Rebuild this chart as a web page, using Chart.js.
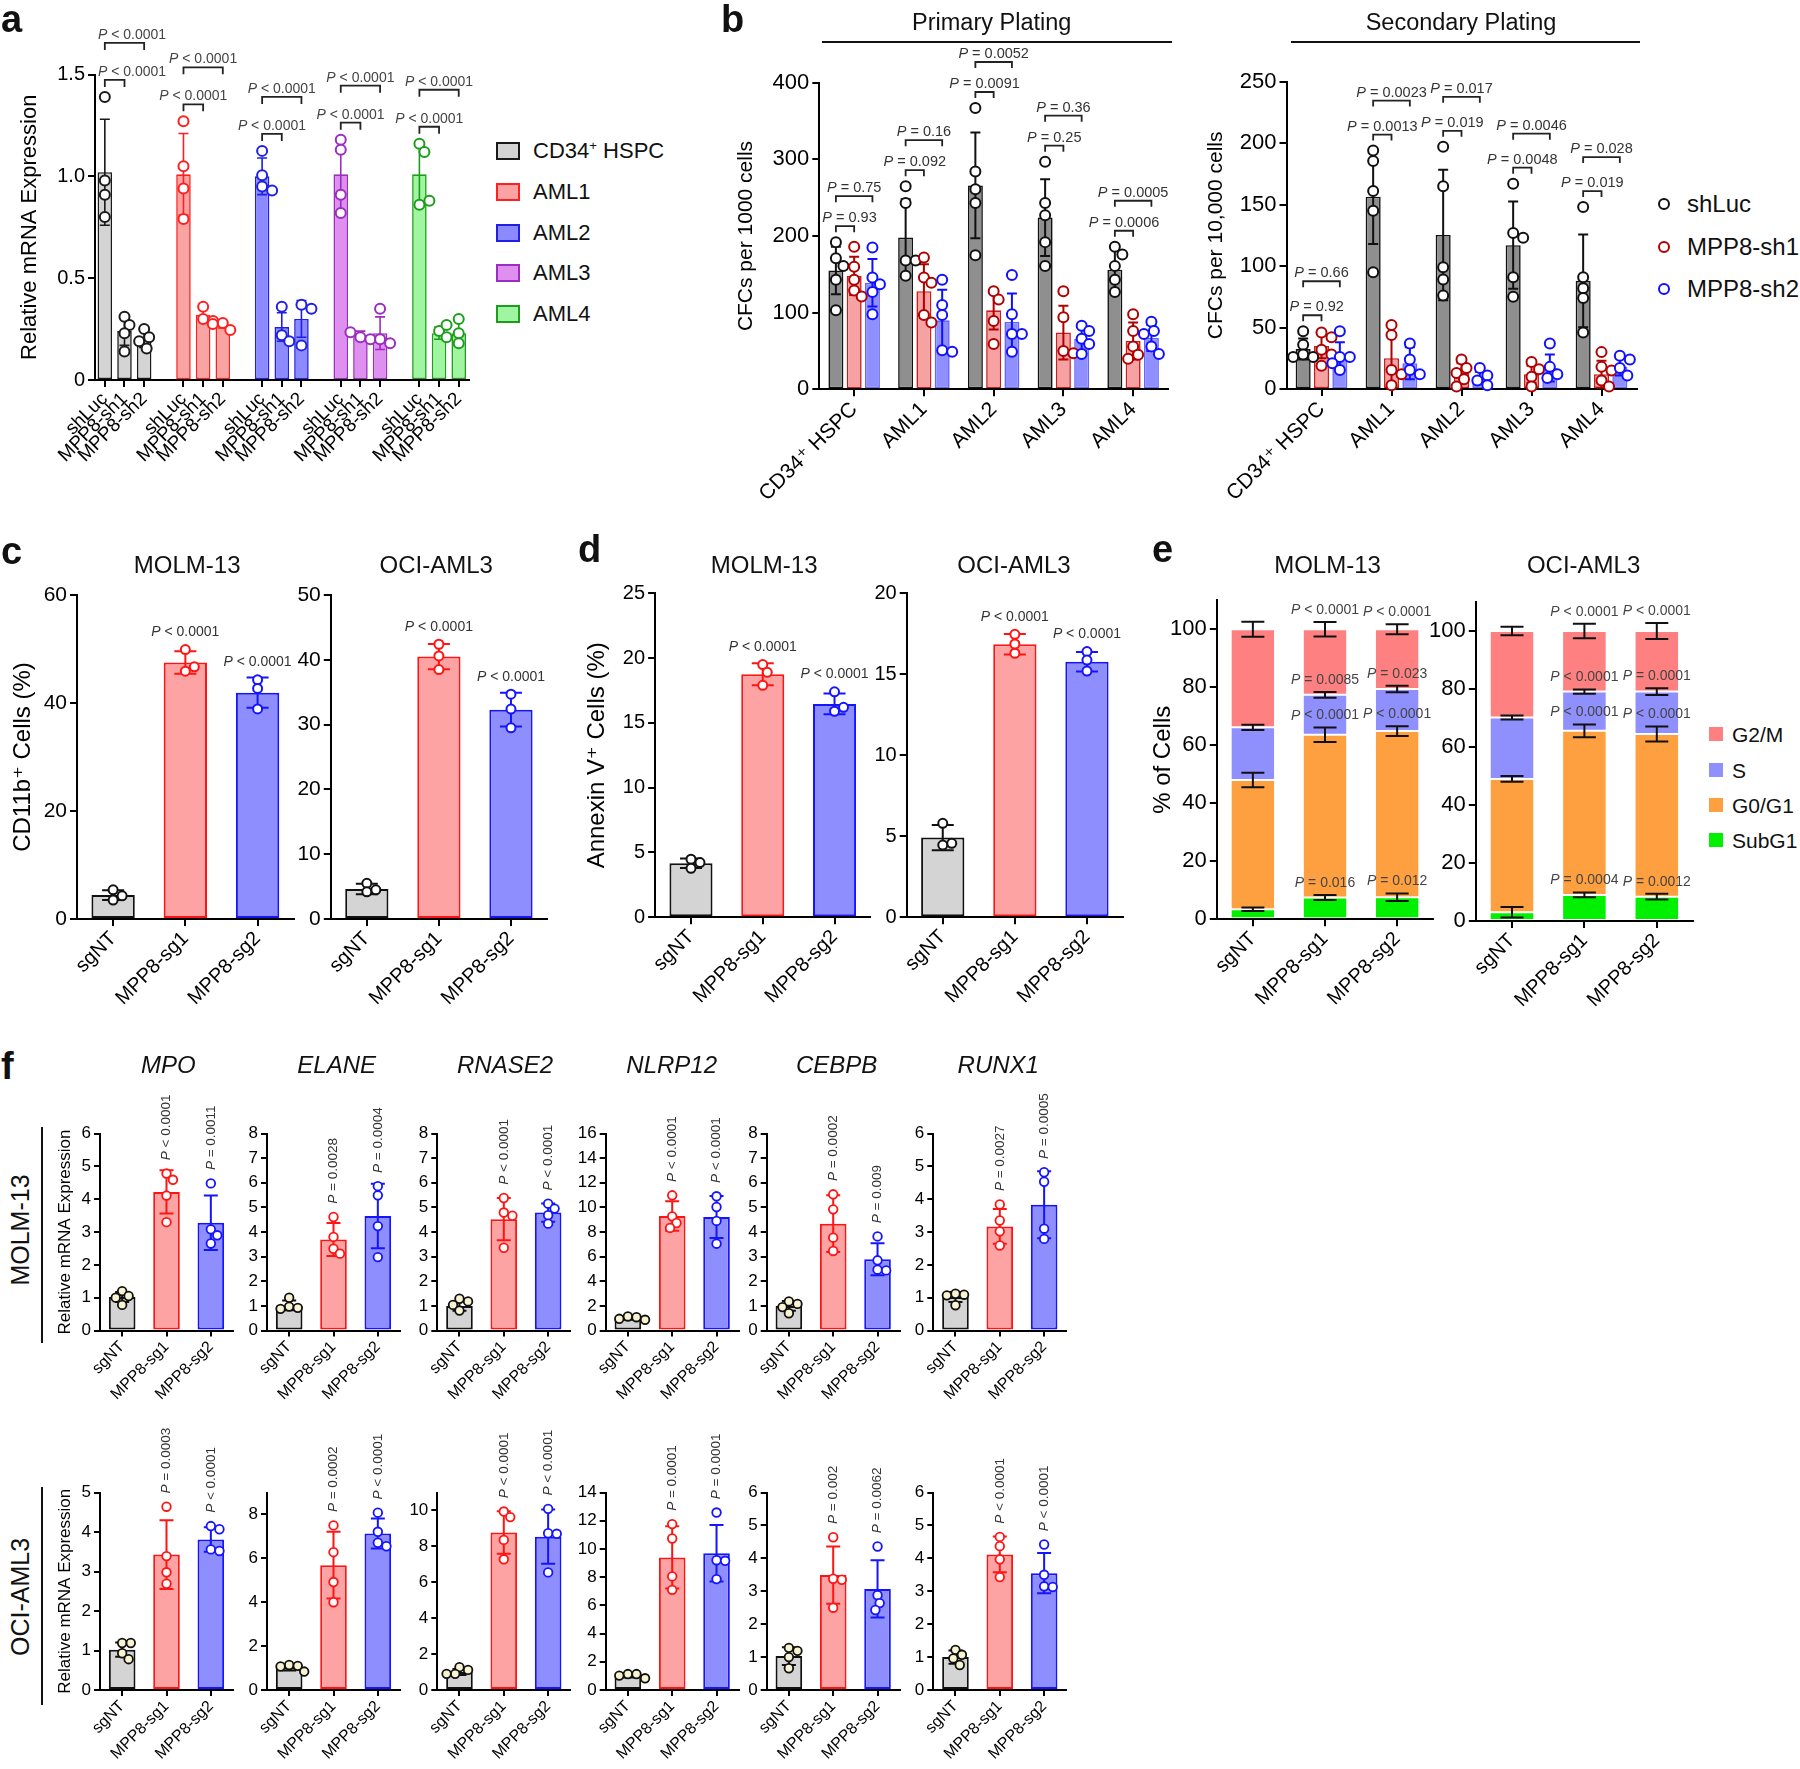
<!DOCTYPE html>
<html>
<head>
<meta charset="utf-8">
<title>MPP8 figure</title>
<script src="https://cdn.jsdelivr.net/npm/chart.js@4.4.1/dist/chart.umd.min.js"></script>
<style>
  html, body { margin: 0; padding: 0; background: #fff; }
  #fig { position: relative; width: 1800px; height: 1769px; overflow: hidden; background: #fff;
         font-family: 'Liberation Sans', Arial, 'DejaVu Sans', sans-serif; color: #111; }
  #fig canvas { position: absolute; }
  .t { position: absolute; white-space: nowrap; line-height: 1; transform: translate(-50%, -50%); z-index: 5; }
  .box { position: absolute; box-sizing: border-box; z-index: 5; }
</style>
</head>
<body>
<div id="fig"></div>
<script>
// ======================= DATA =======================
// ---- Panel a : relative MPP8 mRNA ----
const aGroups = ['CD34⁺ HSPC', 'AML1', 'AML2', 'AML3', 'AML4'];
const aConditions = ['shLuc', 'MPP8-sh1', 'MPP8-sh2'];
const aMeans = [
  [1.02, 0.24, 0.20],
  [1.01, 0.32, 0.27],
  [1.00, 0.26, 0.30],
  [1.01, 0.22, 0.23],
  [1.01, 0.23, 0.23]
];
const aSDs = [
  [0.26, 0.07, 0.04],
  [0.20, 0.03, 0.015],
  [0.09, 0.07, 0.09],
  [0.18, 0.02, 0.08],
  [0.16, 0.03, 0.06]
];
const aPoints = [
  [[1.39, 0.98, 0.91, 0.80], [0.31, 0.27, 0.23, 0.14], [0.25, 0.21, 0.19, 0.155]],
  [[1.27, 1.05, 0.94, 0.79], [0.36, 0.30, 0.29], [0.28, 0.245, 0.275]],
  [[1.125, 1.005, 0.95, 0.93], [0.36, 0.22, 0.19], [0.37, 0.35, 0.17]],
  [[1.18, 1.13, 0.91, 0.82], [0.21, 0.20, 0.235], [0.35, 0.20, 0.18]],
  [[1.16, 1.12, 0.86, 0.88], [0.24, 0.21, 0.27], [0.30, 0.23, 0.18]]
];
const aPShort = ['< 0.0001', '< 0.0001', '< 0.0001', '< 0.0001', '< 0.0001'];
const aPLong  = ['< 0.0001', '< 0.0001', '< 0.0001', '< 0.0001', '< 0.0001'];

// ---- Panel b : colony forming cells ----
const bCategories = ['CD34⁺ HSPC', 'AML1', 'AML2', 'AML3', 'AML4'];
const bSeries = ['shLuc', 'MPP8-sh1', 'MPP8-sh2'];
const bPrimaryMeans = [[155, 198, 266, 224, 156], [148, 128, 103, 74, 63], [139, 90, 88, 66, 67]];
const bPrimarySDs   = [[31, 50, 69, 50, 29], [25, 35, 25, 35, 24], [31, 40, 37, 16, 17]];
const bPrimaryPoints = [
  [[192, 171, 161, 143, 103], [265, 243, 168, 168, 148], [367, 284, 261, 243, 175], [297, 243, 227, 192, 161], [186, 176, 161, 143, 127]],
  [[186, 160, 143, 129, 121], [172, 146, 139, 97, 87], [128, 117, 89, 59], [128, 94, 50, 47], [98, 76, 56, 45, 40]],
  [[185, 146, 137, 127, 98], [143, 110, 97, 51, 49], [149, 98, 72, 72, 49], [83, 76, 66, 59, 46], [88, 76, 72, 56, 46]]
];
const bPrimaryPShort = ['= 0.93', '= 0.092', '= 0.0091', '= 0.25', '= 0.0006'];
const bPrimaryPLong  = ['= 0.75', '= 0.16', '= 0.0052', '= 0.36', '= 0.0005'];

const bSecondaryMeans = [[32.5, 156.5, 125.3, 117, 88], [35, 25, 13, 12, 12], [26, 21, 9, 17, 18]];
const bSecondarySDs   = [[8.5, 38.5, 53, 35.5, 37.7], [10, 27, 8, 7, 11], [12, 13, 5, 11, 7]];
const bSecondaryPoints = [
  [[47, 36, 28, 26, 26], [194, 185.5, 161, 145, 95], [197, 165, 99, 89, 76], [167, 127, 123, 91, 75], [148, 91, 82, 74, 46]],
  [[46, 42, 32, 28, 19], [52, 44, 15.5, 12, 3], [24, 17, 13, 8, 2], [22, 16, 10, 2], [30, 18, 15, 7, 2]],
  [[47, 26, 26, 21, 15.5], [37, 24, 15.5, 12], [17, 11, 7, 3], [37, 18, 12, 9], [27, 24, 17, 11]]
];
const bSecondaryPShort = ['= 0.92', '= 0.0013', '= 0.019', '= 0.0048', '= 0.019'];
const bSecondaryPLong  = ['= 0.66', '= 0.0023', '= 0.017', '= 0.0046', '= 0.028'];

// ---- Panels c, d : CD11b+ and Annexin V+ ----
const sgConditions = ['sgNT', 'MPP8-sg1', 'MPP8-sg2'];
const cMolmMeans = [4.44, 47.5, 41.9];
const cMolmSDs = [0.9, 2.1, 2.8];
const cMolmPoints = [[5.4, 3.5, 4.3], [49.9, 45.9, 46.7], [44.3, 42.7, 38.9]];
const cOciMeans = [4.63, 40.5, 32.3];
const cOciSDs = [0.8, 1.95, 2.6];
const cOciPoints = [[5.5, 4.2, 4.5], [42.4, 40.6, 38.5], [34.7, 32.4, 29.5]];
const cMolmP = [null, '< 0.0001', '< 0.0001'];
const cOciP  = [null, '< 0.0001', '< 0.0001'];

const dMolmMeans = [4.17, 18.75, 16.46];
const dMolmSDs = [0.36, 0.85, 0.8];
const dMolmPoints = [[4.48, 3.78, 4.22], [19.5, 17.9, 18.9], [17.4, 15.9, 16.2]];
const dOciMeans = [4.92, 16.85, 15.78];
const dOciSDs = [0.78, 0.63, 0.6];
const dOciPoints = [[5.8, 4.46, 4.57], [17.47, 16.3, 16.87], [16.4, 15.2, 15.88]];
const dMolmP = [null, '< 0.0001', '< 0.0001'];
const dOciP  = [null, '< 0.0001', '< 0.0001'];

// ---- Panel e : cell cycle (stack order bottom -> top) ----
const ePhases = ['SubG1', 'G0/G1', 'S', 'G2/M'];
const eMolmValues = [[3.45, 7.5, 7.6], [44.55, 56.1, 57.3], [18.2, 13.8, 14.5], [33.8, 22.6, 20.6]];
const eMolmErr    = [[0.6, 0.85, 1.3], [2.5, 2.5, 1.7], [0.9, 1.0, 1.1], [2.6, 2.5, 1.7]];
const eMolmP = [[null, '= 0.016', '= 0.012'], [null, '< 0.0001', '< 0.0001'], [null, '= 0.0085', '= 0.023'], [null, '< 0.0001', '< 0.0001']];
const eOciValues = [[3.0, 9.0, 8.4], [46.0, 56.6, 56.1], [21.2, 13.5, 14.6], [29.8, 20.9, 20.9]];
const eOciErr    = [[1.8, 0.85, 1.0], [1.0, 2.2, 2.6], [0.7, 0.7, 1.2], [1.5, 2.5, 2.8]];
const eOciP = [[null, '= 0.0004', '= 0.0012'], [null, '< 0.0001', '< 0.0001'], [null, '< 0.0001', '= 0.0001'], [null, '< 0.0001', '< 0.0001']];

// ---- Panel f : myeloid genes ----
const fGenes = ['MPO', 'ELANE', 'RNASE2', 'NLRP12', 'CEBPB', 'RUNX1'];
const fMolmMax  = [6, 8, 8, 16, 8, 6];
const fMolmStep = [1, 1, 1, 2, 1, 1];
const fMolmMeans = [[1.02, 4.22, 3.28], [1.02, 3.70, 4.65], [1.00, 4.52, 4.79], [1.00, 9.30, 9.22], [1.00, 4.34, 2.89], [1.02, 3.17, 3.83]];
const fMolmSDs   = [[0.15, 0.66, 0.83], [0.20, 0.67, 1.31], [0.20, 0.86, 0.37], [0.12, 1.20, 1.70], [0.20, 1.15, 0.65], [0.15, 0.53, 1.02]];
const fMolmPoints = [
  [[1.20, 1.05, 1.00, 0.78], [4.78, 4.59, 4.11, 3.30], [4.48, 3.08, 2.90, 2.65]],
  [[1.33, 0.97, 0.92, 0.88], [4.61, 3.80, 3.32, 3.12], [5.86, 5.49, 4.24, 2.98]],
  [[1.29, 1.18, 1.04, 0.81], [5.38, 4.79, 4.66, 3.36], [5.15, 4.95, 4.68, 4.34]],
  [[1.14, 1.08, 0.95, 0.87], [10.98, 9.27, 8.73, 8.33], [10.90, 10.03, 8.90, 7.05]],
  [[1.18, 1.08, 0.95, 0.70], [5.53, 4.92, 3.77, 3.23], [3.82, 2.85, 2.47, 2.44]],
  [[1.12, 1.09, 1.07, 0.77], [3.84, 3.35, 3.02, 2.59], [4.82, 4.53, 3.10, 2.79]]
];
const fMolmP = [['< 0.0001', '= 0.0011'], ['= 0.0028', '= 0.0004'], ['< 0.0001', '< 0.0001'], ['< 0.0001', '< 0.0001'], ['= 0.0002', '= 0.009'], ['= 0.0027', '= 0.0005']];

const fOciMax  = [5, 9, 11, 14, 6, 6];
const fOciStep = [1, 1, 1, 2, 1, 1];
const fOciMeans = [[1.02, 3.43, 3.81], [1.02, 5.69, 7.13], [1.00, 8.77, 8.54], [1.02, 9.40, 9.70], [1.03, 3.49, 3.07], [1.00, 4.12, 3.55]];
const fOciSDs   = [[0.18, 0.87, 0.31], [0.13, 1.52, 0.68], [0.17, 1.18, 1.51], [0.13, 2.20, 2.00], [0.27, 0.87, 0.87], [0.20, 0.54, 0.61]];
const fOciPoints = [
  [[1.19, 1.19, 0.93, 0.78], [4.64, 3.39, 2.98, 2.69], [4.15, 4.07, 3.56, 3.52]],
  [[1.14, 1.10, 1.07, 0.84], [7.50, 6.28, 4.92, 4.00], [8.08, 7.21, 6.71, 6.55]],
  [[1.27, 1.12, 0.90, 0.90], [9.94, 9.63, 8.36, 7.28], [10.09, 8.73, 8.70, 6.55]],
  [[1.13, 1.13, 1.02, 0.83], [11.76, 10.74, 8.05, 7.10], [12.58, 9.20, 9.16, 7.86]],
  [[1.28, 1.19, 1.00, 0.66], [4.64, 3.38, 3.35, 2.50], [4.36, 2.88, 2.64, 2.43]],
  [[1.22, 1.07, 0.96, 0.76], [4.65, 4.37, 3.97, 3.43], [4.42, 3.50, 3.15, 3.13]]
];
const fOciP = [['= 0.0003', '< 0.0001'], ['= 0.0002', '< 0.0001'], ['< 0.0001', '< 0.0001'], ['= 0.0001', '= 0.0001'], ['= 0.002', '= 0.0062'], ['< 0.0001', '< 0.0001']];

// ======================= STYLES =======================
const aFill = ['#d4d4d4', '#f9a3a3', '#8b8bff', '#df8ff0', '#a0f5a0'];
const aLine = ['#1a1a1a', '#ff1f1f', '#1f1fe6', '#9b2dbf', '#1c9e1c'];
const bFill = ['#8f8f8f', '#f6a2a2', '#8f8fff'];
const bLine = ['#111111', '#c81e1e', '#6464ff'];
const bMark = ['#111111', '#b00000', '#1010ff'];
const triFill = ['#d4d4d4', '#fda3a3', '#8e8eff'];
const triLine = ['#111111', '#ff1414', '#1414ff'];
const eColors = ['#00f000', '#fea040', '#8f8ffe', '#fe8080'];

// ======================= HELPERS =======================
const FONT = "'Liberation Sans', Arial, 'DejaVu Sans', sans-serif";
Chart.defaults.font.family = FONT;
Chart.defaults.color = '#000';
const fig = document.getElementById('fig');
const SUP = '<span style="font-size:0.6em;position:relative;top:-0.6em">+</span>';

function div(cls, html, css) {
  const d = document.createElement('div');
  d.className = cls;
  d.innerHTML = html;
  Object.assign(d.style, css);
  fig.appendChild(d);
  return d;
}
function textC(html, x, y, size, extra) {
  return div('t', html, Object.assign({left: x + 'px', top: y + 'px', fontSize: size + 'px'}, extra || {}));
}
function textL(html, x, y, size, extra) {
  return div('t', html, Object.assign({left: x + 'px', top: y + 'px', fontSize: size + 'px', transform: 'translate(0,-50%)'}, extra || {}));
}

function swarm(pys, r) {
  const placed = [], out = [];
  const minD = 2 * r * 0.92;
  pys.forEach(py => {
    let off = 0;
    for (let k = 0; k < 60; k++) {
      const o = k === 0 ? 0 : (k % 2 ? 1 : -1) * Math.ceil(k / 2) * r * 0.5;
      if (placed.every(p => Math.hypot(p.x - o, p.y - py) >= minD)) { off = o; break; }
    }
    placed.push({x: off, y: py});
    out.push(off);
  });
  return out;
}

function pWidth(ctx, rest, size) {
  ctx.save();
  ctx.font = 'italic ' + size + 'px ' + FONT; const wp = ctx.measureText('P').width;
  ctx.font = size + 'px ' + FONT; const wr = ctx.measureText(' ' + rest).width;
  ctx.restore();
  return wp + wr;
}

function drawP(ctx, rest, x, y, o) {
  ctx.save();
  ctx.fillStyle = o.color;
  const fi = 'italic ' + o.size + 'px ' + FONT, fn = o.size + 'px ' + FONT;
  ctx.font = fi; const wp = ctx.measureText('P').width;
  const txt = ' ' + rest;
  ctx.font = fn; const wr = ctx.measureText(txt).width;
  ctx.translate(x, y);
  let sx;
  if (o.vertical) { ctx.rotate(-Math.PI / 2); sx = 0; ctx.textBaseline = 'middle'; }
  else { sx = -(wp + wr) / 2; ctx.textBaseline = o.baseline || 'alphabetic'; }
  ctx.textAlign = 'left';
  ctx.font = fi; ctx.fillText('P', sx, 0);
  ctx.font = fn; ctx.fillText(txt, sx + wp, 0);
  ctx.restore();
}

function extrasPlugin(ex) {
  return {
    id: 'figExtras',
    afterDatasetsDraw(chart) {
      if (!ex) return;
      const ctx = chart.ctx, ys = chart.scales.y;
      const px = v => ys.getPixelForValue(v);
      const xOf = it => chart.getDatasetMeta(it.ds).data[it.idx].x;
      const topOf = it => {
        let t = px(it.mean + (it.sd || 0));
        if (it.pts && it.pts.length) t = Math.min(t, px(Math.max(...it.pts)) - ex.r);
        return t;
      };
      ctx.save();
      (ex.items || []).forEach(it => {
        if (it.sd == null) return;
        const x = xOf(it), c = ex.cap / 2;
        const y1 = px(it.mean + it.sd), y2 = px(Math.max(0, it.mean - it.sd));
        ctx.strokeStyle = it.line; ctx.lineWidth = ex.lw;
        ctx.beginPath();
        ctx.moveTo(x, y1); ctx.lineTo(x, y2);
        ctx.moveTo(x - c, y1); ctx.lineTo(x + c, y1);
        ctx.moveTo(x - c, y2); ctx.lineTo(x + c, y2);
        ctx.stroke();
      });
      (ex.items || []).forEach(it => {
        if (!it.pts) return;
        const x = xOf(it);
        const pys = it.pts.map(px);
        const offs = swarm(pys, ex.r);
        ctx.strokeStyle = it.line; ctx.fillStyle = it.fill || '#fff'; ctx.lineWidth = ex.ptLw;
        pys.forEach((py, k) => {
          ctx.beginPath(); ctx.arc(x + offs[k], py, ex.r, 0, Math.PI * 2); ctx.fill(); ctx.stroke();
        });
      });
      (ex.brackets || []).forEach(b => {
        const tS = Math.min(topOf(b.c), topOf(b.s1));
        const tA = Math.min(tS, topOf(b.s2));
        const yS = tS - ex.brGap;
        const yL = Math.min(yS - ex.brSpace, tA - ex.brGap);
        [[b.s1, yS, b.t1], [b.s2, yL, b.t2]].forEach(([s, y, t]) => {
          const xa = xOf(b.c), xb = xOf(s);
          ctx.strokeStyle = '#222'; ctx.lineWidth = ex.brLw || 1.8;
          ctx.beginPath();
          ctx.moveTo(xa, y + ex.brTick); ctx.lineTo(xa, y); ctx.lineTo(xb, y); ctx.lineTo(xb, y + ex.brTick);
          ctx.stroke();
          // keep the label clear of the y axis
          const w = pWidth(ctx, t, ex.pSize);
          let cx = (xa + xb) / 2;
          const minLeft = chart.chartArea.left + 3;
          if (cx - w / 2 < minLeft) cx = minLeft + w / 2;
          drawP(ctx, t, cx, y - 4, {size: ex.pSize, color: ex.pColor});
        });
      });
      (ex.plabels || []).forEach(p => {
        if (!p.text) return;
        const x = xOf(p.it);
        const t = topOf(p.it) - ex.pGap;
        drawP(ctx, p.text, x, t, {size: ex.pSize, color: ex.pColor, vertical: ex.pVertical, baseline: 'middle'});
      });
      ctx.restore();
    }
  };
}

function buildChart(o) {
  const L = Math.round(o.x0 - o.yw), T = Math.round(o.yTop - o.padTop);
  const W = Math.ceil(o.x1 - L + o.padRight), H = Math.ceil(o.yBot - T + o.xh);
  const yw = o.x0 - L, padTop = o.yTop - T, padRight = W - (o.x1 - L), xh = H - (o.yBot - T);
  const cv = document.createElement('canvas');
  cv.width = W; cv.height = H;
  Object.assign(cv.style, {left: L + 'px', top: T + 'px', width: W + 'px', height: H + 'px'});
  fig.appendChild(cv);
  const lw = o.axisLW || 2, tl = o.tickLen || 7;
  const yTicks = {stepSize: o.yStep, includeBounds: false, padding: 3, color: '#000', font: {size: o.yFont}};
  if (o.yFmt) yTicks.callback = o.yFmt;
  return new Chart(cv, {
    type: 'bar',
    data: {labels: o.labels, datasets: o.datasets},
    options: {
      responsive: false, maintainAspectRatio: false, animation: false, devicePixelRatio: 1,
      events: [],
      layout: {padding: {top: padTop, right: padRight, left: 0, bottom: 0}},
      plugins: {legend: {display: false}, tooltip: {enabled: false}, title: {display: false}},
      scales: {
        x: {
          type: 'category', stacked: !!o.stacked, offset: true,
          grid: {display: true, offset: false, drawOnChartArea: false, drawTicks: true, tickLength: tl, lineWidth: lw,
                 color: c => (o.labels[c.index] ? '#000' : 'rgba(0,0,0,0)')},
          border: {display: true, color: '#000', width: lw},
          ticks: {autoSkip: false, minRotation: 45, maxRotation: 45, padding: 1, color: '#000', font: {size: o.xFont}},
          afterFit: s => { s.height = xh; }
        },
        y: {
          stacked: !!o.stacked, min: 0, max: o.yMax,
          grid: {display: true, drawOnChartArea: false, drawTicks: true, tickLength: tl, lineWidth: lw, color: '#000'},
          border: {display: true, color: '#000', width: lw},
          ticks: yTicks,
          title: o.yTitle ? {display: true, text: o.yTitle, color: '#000', font: {size: o.yTitleFont}, padding: 0} : {display: false},
          afterFit: s => { s.width = yw; }
        }
      }
    },
    plugins: [extrasPlugin(o.extras)]
  });
}

// ======================= PANEL a =======================
(function () {
  const labels = [], means = [], bg = [], bd = [], items = [], brackets = [];
  aGroups.forEach((g, gi) => {
    if (gi > 0) { labels.push(''); means.push(null); bg.push('rgba(0,0,0,0)'); bd.push('rgba(0,0,0,0)'); }
    const idx0 = labels.length;
    aConditions.forEach((c, ci) => {
      labels.push(c); means.push(aMeans[gi][ci]); bg.push(aFill[gi]); bd.push(aLine[gi]);
      items.push({ds: 0, idx: idx0 + ci, mean: aMeans[gi][ci], sd: aSDs[gi][ci], pts: aPoints[gi][ci], line: aLine[gi]});
    });
    const k = items.length - 3;
    brackets.push({c: items[k], s1: items[k + 1], s2: items[k + 2], t1: aPShort[gi], t2: aPLong[gi]});
  });
  buildChart({
    x0: 95, x1: 470, yTop: 74.5, yBot: 380, yw: 78.2, xh: 100, padTop: 74, padRight: 6,
    labels,
    datasets: [{data: means, backgroundColor: bg, borderColor: bd, borderWidth: 1.6, borderSkipped: false, barPercentage: 0.74, categoryPercentage: 1}],
    yMax: 1.5, yStep: 0.5, yFmt: v => (v === 0 ? '0' : v.toFixed(1)), yFont: 20, xFont: 19,
    yTitle: 'Relative mRNA Expression', yTitleFont: 22,
    extras: {items, brackets, cap: 10, lw: 1.6, r: 5, ptLw: 2, brGap: 12, brSpace: 37, brTick: 7, pSize: 14, pColor: '#444'}
  });
  // legend
  aGroups.forEach((g, i) => {
    const yc = 151 + i * 40.8;
    div('box', '', {left: '496px', top: (yc - 9) + 'px', width: '24px', height: '18px', background: aFill[i], border: '2px solid ' + aLine[i]});
    textL(i === 0 ? 'CD34' + SUP + ' HSPC' : g, 533, yc, 22);
  });
})();

// ======================= PANEL b =======================
function bChart(pos, means, sds, pts, pS, pL, yMax, yStep, yTitle, brSpace) {
  const items = [], brackets = [];
  const datasets = bSeries.map((s, si) => ({label: s, data: means[si], backgroundColor: bFill[si], borderColor: bLine[si],
    borderWidth: 1.6, borderSkipped: false, barPercentage: 0.82, categoryPercentage: 0.786}));
  bCategories.forEach((c, ci) => {
    const its = bSeries.map((s, si) => ({ds: si, idx: ci, mean: means[si][ci], sd: sds[si][ci], pts: pts[si][ci], line: bMark[si]}));
    items.push(...its);
    brackets.push({c: its[0], s1: its[1], s2: its[2], t1: pS[ci], t2: pL[ci]});
  });
  buildChart(Object.assign({}, pos, {
    labels: bCategories, datasets, yMax, yStep, yFont: 22, xFont: 21, yTitle, yTitleFont: 21,
    extras: {items, brackets, cap: 10, lw: 2, r: 5, ptLw: 2, brGap: 11, brSpace, brTick: 6, pSize: 14.5, pColor: '#333'}
  }));
}
bChart({x0: 819.3, x1: 1168, yTop: 82.7, yBot: 389.3, yw: 85.2, xh: 125, padTop: 82, padRight: 5},
  bPrimaryMeans, bPrimarySDs, bPrimaryPoints, bPrimaryPShort, bPrimaryPLong, 400, 100, 'CFCs per 1000 cells', 30);
bChart({x0: 1286.5, x1: 1636.5, yTop: 81.7, yBot: 389, yw: 82.1, xh: 125, padTop: 81, padRight: 5},
  bSecondaryMeans, bSecondarySDs, bSecondaryPoints, bSecondaryPShort, bSecondaryPLong, 250, 50, 'CFCs per 10,000 cells', 34);
textC('Primary Plating', 991.7, 23.3, 23.5);
textC('Secondary Plating', 1461, 23.3, 23.5);
div('box', '', {left: '821.7px', top: '40.7px', width: '350px', height: '2px', background: '#111'});
div('box', '', {left: '1291px', top: '40.7px', width: '349.4px', height: '2px', background: '#111'});
bSeries.forEach((s, i) => {
  const yc = 204.3 + i * 42.5;
  div('box', '', {left: '1657.7px', top: (yc - 6) + 'px', width: '12px', height: '12px', border: '2px solid ' + bMark[i], borderRadius: '50%', background: '#fff'});
  textL(s, 1687, yc, 24);
});

// ======================= PANELS c, d, f (three bars) =======================
function triChart(pos, means, sds, pts, pvals, yMax, yStep, st, yTitle) {
  const items = sgConditions.map((c, i) => ({ds: 0, idx: i, mean: means[i], sd: sds[i], pts: pts[i], line: triLine[i], fill: i === 0 ? st.fill0 : '#fff'}));
  const plabels = items.map((it, i) => ({it, text: pvals[i]}));
  return buildChart(Object.assign({}, pos, {
    labels: sgConditions,
    datasets: [{data: means, backgroundColor: triFill, borderColor: triLine, borderWidth: 2, borderSkipped: false, barPercentage: 0.6, categoryPercentage: 1}],
    yMax, yStep, yFont: st.yFont, xFont: st.xFont, yTitle, yTitleFont: st.titleFont, tickLen: st.tickLen,
    extras: {items, plabels, cap: st.cap, lw: 2, r: st.r, ptLw: st.ptLw, pGap: st.pGap, pSize: st.pSize, pColor: '#333', pVertical: !!st.vertical}
  }));
}
const cdStyle = {yFont: 21, xFont: 20, titleFont: 24, tickLen: 7, cap: 22, r: 4.5, ptLw: 2, pGap: 13, pSize: 14, fill0: '#fff'};
triChart({x0: 77, x1: 293.7, yTop: 595, yBot: 919, yw: 67.8, xh: 100, padTop: 45, padRight: 5},
  cMolmMeans, cMolmSDs, cMolmPoints, cMolmP, 60, 20, cdStyle, 'CD11b⁺ Cells (%)');
triChart({x0: 330.8, x1: 547, yTop: 595, yBot: 919, yw: 55, xh: 100, padTop: 45, padRight: 5},
  cOciMeans, cOciSDs, cOciPoints, cOciP, 50, 10, cdStyle, null);
triChart({x0: 655.1, x1: 870.4, yTop: 593.3, yBot: 917.3, yw: 71.8, xh: 100, padTop: 45, padRight: 5},
  dMolmMeans, dMolmSDs, dMolmPoints, dMolmP, 25, 5, Object.assign({}, cdStyle, {yFont: 20}), 'Annexin V⁺ Cells (%)');
triChart({x0: 906.7, x1: 1123, yTop: 593.3, yBot: 917.3, yw: 55, xh: 100, padTop: 45, padRight: 5},
  dOciMeans, dOciSDs, dOciPoints, dOciP, 20, 5, Object.assign({}, cdStyle, {yFont: 20}), null);

// ======================= PANEL e (stacked) =======================
function eChart(pos, vals, errs, pv, yTitle) {
  const datasets = ePhases.map((ph, pi) => ({label: ph, data: vals[pi], backgroundColor: eColors[pi], borderColor: 'rgba(255,255,255,0.6)', borderWidth: 1, borderSkipped: false, barPercentage: 0.615, categoryPercentage: 1}));
  const items = [], plabels = [];
  sgConditions.forEach((c, ci) => {
    let cum = 0;
    ePhases.forEach((ph, pi) => {
      cum += vals[pi][ci];
      const it = {ds: pi, idx: ci, mean: cum, sd: errs[pi][ci], line: '#111'};
      items.push(it);
      plabels.push({it, text: pv[pi][ci]});
    });
  });
  buildChart(Object.assign({}, pos, {
    labels: sgConditions, datasets, stacked: true, yMax: 110, yStep: 20, yFont: 22, xFont: 20, yTitle, yTitleFont: 24,
    extras: {items, plabels, cap: 23, lw: 2, r: 0, ptLw: 0, pGap: 12, pSize: 14, pColor: '#444'}
  }));
}
eChart({x0: 1216.8, x1: 1433.2, yTop: 600.3, yBot: 919.3, yw: 67.4, xh: 100, padTop: 20, padRight: 5}, eMolmValues, eMolmErr, eMolmP, '% of Cells');
eChart({x0: 1475.8, x1: 1693, yTop: 602, yBot: 921, yw: 55, xh: 100, padTop: 20, padRight: 5}, eOciValues, eOciErr, eOciP, null);
[['G2/M', 3], ['S', 2], ['G0/G1', 1], ['SubG1', 0]].forEach(([name, ci], i) => {
  const yc = 734.3 + i * 35.2;
  div('box', '', {left: '1709px', top: (yc - 7) + 'px', width: '14px', height: '14px', background: eColors[ci]});
  textL(name, 1732, yc, 21);
});

// ======================= PANEL f =======================
const fX0 = [100, 267, 437.3, 605.7, 766.7, 933.3];
const fStyle = {yFont: 17, xFont: 16, titleFont: 17, tickLen: 6, cap: 14, r: 4.3, ptLw: 1.8, pGap: 9, pSize: 13.5, vertical: true, fill0: '#f8f4d2'};
fGenes.forEach((g, gi) => {
  const base = {x0: fX0[gi], x1: fX0[gi] + 133, yw: gi === 0 ? 45.2 : 38, xh: 80, padRight: 4};
  triChart(Object.assign({}, base, {yTop: 1133.5, yBot: 1330.5, padTop: 60}),
    fMolmMeans[gi], fMolmSDs[gi], fMolmPoints[gi], [null].concat(fMolmP[gi]), fMolmMax[gi], fMolmStep[gi], fStyle,
    gi === 0 ? 'Relative mRNA Expression' : null);
  triChart(Object.assign({}, base, {yTop: 1492.5, yBot: 1690, padTop: 75}),
    fOciMeans[gi], fOciSDs[gi], fOciPoints[gi], [null].concat(fOciP[gi]), fOciMax[gi], fOciStep[gi], fStyle,
    gi === 0 ? 'Relative mRNA Expression' : null);
});
const fTitleX = [168.3, 336.7, 505, 671.7, 836.7, 998.3];
fGenes.forEach((g, gi) => textC(g, fTitleX[gi], 1065, 24, {fontStyle: 'italic'}));
textC('MOLM-13', 20, 1230, 25, {transform: 'translate(-50%,-50%) rotate(-90deg)'});
textC('OCI-AML3', 20, 1597, 25, {transform: 'translate(-50%,-50%) rotate(-90deg)'});
div('box', '', {left: '40.7px', top: '1127px', width: '2px', height: '216px', background: '#111'});
div('box', '', {left: '40.7px', top: '1487px', width: '2px', height: '218px', background: '#111'});

// ======================= TITLES & PANEL LETTERS =======================
textC('MOLM-13', 187.2, 565, 24); textC('OCI-AML3', 436.2, 565, 24);
textC('MOLM-13', 764.2, 565, 24); textC('OCI-AML3', 1014, 565, 24);
textC('MOLM-13', 1327.5, 565, 24); textC('OCI-AML3', 1583.6, 565, 24);
const letterCss = {fontWeight: 'bold', transform: 'none'};
div('t', 'a', Object.assign({left: '1px', top: '0px', fontSize: '38px'}, letterCss));
div('t', 'b', Object.assign({left: '721px', top: '0px', fontSize: '38px'}, letterCss));
div('t', 'c', Object.assign({left: '1px', top: '532px', fontSize: '38px'}, letterCss));
div('t', 'd', Object.assign({left: '578px', top: '530px', fontSize: '38px'}, letterCss));
div('t', 'e', Object.assign({left: '1152px', top: '530px', fontSize: '38px'}, letterCss));
div('t', 'f', Object.assign({left: '1px', top: '1047px', fontSize: '38px'}, letterCss));
</script>
</body>
</html>
